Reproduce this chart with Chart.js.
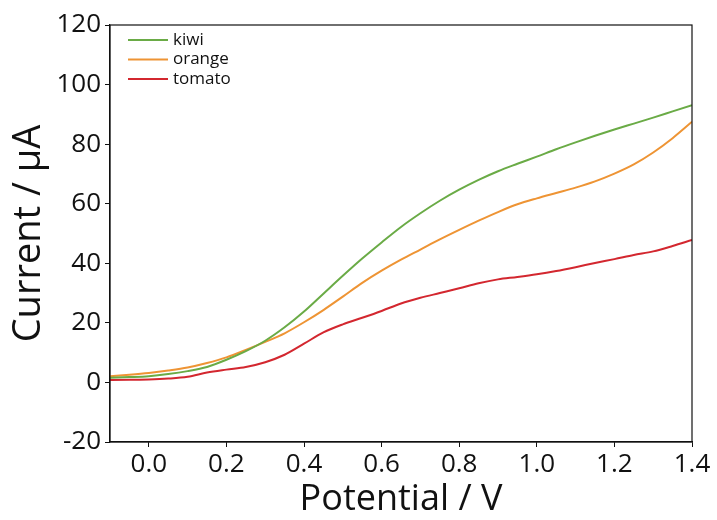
<!DOCTYPE html>
<html>
<head>
<meta charset="utf-8">
<script src="https://cdn.jsdelivr.net/npm/chart.js@4/dist/chart.umd.min.js"></script>
<style>
  html, body { margin: 0; padding: 0; background: #fff; }
  #wrap { width: 717px; height: 520px; }
</style>
</head>
<body>
<div id="wrap"><canvas id="cv" width="717" height="520"></canvas></div>
<script>
// potential sweep (V) and measured current (uA) for each juice
const potential = [-0.1, -0.05, 0.0, 0.05, 0.1, 0.15, 0.2, 0.25, 0.3, 0.35, 0.4, 0.45, 0.5, 0.55, 0.6,
                   0.65, 0.7, 0.75, 0.8, 0.85, 0.9, 0.95, 1.0, 1.05, 1.1, 1.15, 1.2, 1.25, 1.3, 1.35, 1.4];
const kiwi   = [1.6, 1.8, 2.1, 2.8, 3.8, 5.2, 7.6, 10.5, 14.0, 18.5, 23.8, 29.8, 35.8, 41.6, 47.0,
                52.2, 56.8, 61.0, 64.7, 68.0, 70.9, 73.4, 75.8, 78.3, 80.6, 82.8, 84.9, 86.9, 88.9, 91.0, 93.1];
const orange = [2.1, 2.6, 3.2, 4.0, 5.0, 6.5, 8.4, 10.9, 13.6, 16.5, 20.2, 24.3, 28.8, 33.4, 37.5,
                41.2, 44.6, 48.0, 51.2, 54.3, 57.2, 59.8, 61.8, 63.6, 65.4, 67.5, 70.1, 73.2, 77.2, 82.0, 87.5];
const tomato = [0.8, 0.9, 1.0, 1.3, 1.9, 3.3, 4.3, 5.2, 6.8, 9.3, 13.0, 16.8, 19.5, 21.7, 24.0,
                26.5, 28.4, 30.0, 31.6, 33.3, 34.6, 35.4, 36.3, 37.4, 38.7, 40.1, 41.4, 42.8, 44.0, 45.8, 47.8];

const seriesNames = ['kiwi', 'orange', 'tomato'];
const seriesColors = ['#6aab46', '#ee9434', '#d3272f'];

const xTicks = [0.0, 0.2, 0.4, 0.6, 0.8, 1.0, 1.2, 1.4];
const yTicks = [-20, 0, 20, 40, 60, 80, 100, 120];

const FONT = "'Open Sans', 'Noto Sans', sans-serif";

function toPoints(ys) {
  return potential.map((x, i) => ({ x: x, y: ys[i] }));
}

const datasets = [kiwi, orange, tomato].map((ys, i) => ({
  label: seriesNames[i],
  data: toPoints(ys),
  borderColor: seriesColors[i],
  backgroundColor: seriesColors[i],
  borderWidth: 2,
  pointRadius: 0,
  cubicInterpolationMode: 'monotone',
  fill: false,
}));

// frame on top/right plus a small legend in the upper left of the plot
const framePlugin = {
  id: 'frame',
  afterDraw(chart) {
    const ctx = chart.ctx;
    const a = chart.chartArea;
    ctx.save();
    ctx.strokeStyle = '#111';
    ctx.lineWidth = 1.2;
    ctx.strokeRect(a.left, a.top, a.right - a.left, a.bottom - a.top);

    ctx.font = "17px " + FONT;
    ctx.textBaseline = 'middle';
    chart.data.datasets.forEach((ds, i) => {
      const y = a.top + 15 + i * 19.5;
      ctx.strokeStyle = ds.borderColor;
      ctx.lineWidth = 2;
      ctx.beginPath();
      ctx.moveTo(a.left + 18, y);
      ctx.lineTo(a.left + 58, y);
      ctx.stroke();
      ctx.fillStyle = '#111';
      ctx.fillText(ds.label, a.left + 63, y);
    });
    ctx.restore();
  }
};

new Chart(document.getElementById('cv'), {
  type: 'line',
  data: { datasets: datasets },
  plugins: [framePlugin],
  options: {
    responsive: false,
    animation: false,
    layout: { padding: { left: 0, top: 25, right: 25, bottom: 0 } },
    plugins: {
      legend: { display: false },
      tooltip: { enabled: false },
    },
    scales: {
      x: {
        type: 'linear',
        min: -0.1,
        max: 1.4,
        afterBuildTicks: (scale) => { scale.ticks = xTicks.map(v => ({ value: v })); },
        afterFit: (scale) => { scale.height = 78; },
        border: { display: true, color: '#111', width: 1.2 },
        grid: { drawOnChartArea: false, drawTicks: true, tickLength: 5, color: '#111' },
        ticks: {
          color: '#111',
          padding: 2,
          maxRotation: 0,
          font: { family: FONT, size: 26 },
          callback: (v) => v.toFixed(1),
        },
        title: {
          display: true,
          text: 'Potential / V',
          color: '#111',
          padding: { top: 0, bottom: -1 },
          font: { family: FONT, size: 36 },
        },
      },
      y: {
        min: -20,
        max: 120,
        afterBuildTicks: (scale) => { scale.ticks = yTicks.map(v => ({ value: v })); },
        afterFit: (scale) => { scale.width = 110; },
        border: { display: true, color: '#111', width: 1.2 },
        grid: { drawOnChartArea: false, drawTicks: true, tickLength: 5, color: '#111' },
        ticks: {
          color: '#111',
          padding: 4,
          font: { family: FONT, size: 26 },
        },
        title: {
          display: true,
          text: 'Current / μA',
          color: '#111',
          padding: { top: 6, bottom: 0 },
          font: { family: FONT, size: 38 },
        },
      },
    },
  },
});
</script>
</body>
</html>
